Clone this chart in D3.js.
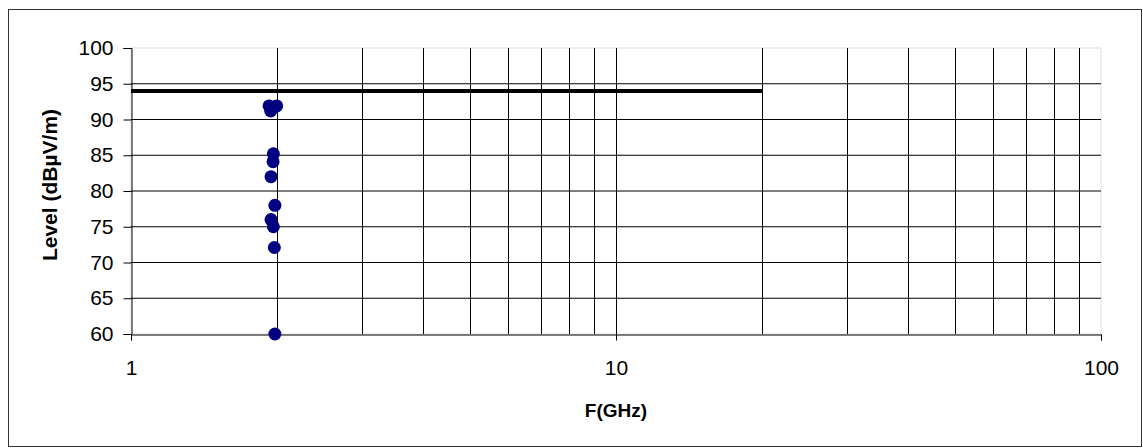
<!DOCTYPE html>
<html>
<head>
<meta charset="utf-8">
<script src="https://cdn.jsdelivr.net/npm/d3@7"></script>
<style>
  html, body { margin: 0; padding: 0; background: #fff; }
  svg { display: block; font-family: "Liberation Sans", Arial, sans-serif; }
</style>
</head>
<body>
<svg id="chart" width="1143" height="448"></svg>
<script>
// Measured emission points: frequency (GHz) and field strength (dBµV/m)
const freqGHz = [1.926, 1.997, 1.941, 1.966, 1.963, 1.944, 1.980, 1.944, 1.966, 1.975, 1.980];
const levelDb = [91.9, 91.9, 91.2, 85.2, 84.1, 82.0, 78.0, 76.0, 75.0, 72.1, 60.0];

// Limit line (start / end frequency, level)
const limitFreq = [1, 20];
const limitLevel = [94, 94];

// Axis ticks
const yTicks = [60, 65, 70, 75, 80, 85, 90, 95, 100];
const xLabelTicks = [1, 10, 100];
const xGridTicks = [2, 3, 4, 5, 6, 7, 8, 9, 10, 20, 30, 40, 50, 60, 70, 80, 90];

const svg = d3.select("#chart");

const plot = { left: 131, right: 1101, top: 48, bottom: 334 };

const x = d3.scaleLog().domain([1, 100]).range([plot.left, plot.right]);
const y = d3.scaleLinear().domain([60, 100]).range([plot.bottom, plot.top]);

// Outer chart frame
svg.append("rect")
  .attr("x", 8.5).attr("y", 9.5)
  .attr("width", 1133).attr("height", 437)
  .attr("fill", "#fff")
  .attr("stroke", "#333").attr("stroke-width", 1);

// Plot area border (faint)
svg.append("rect")
  .attr("x", plot.left).attr("y", plot.top)
  .attr("width", plot.right - plot.left).attr("height", plot.bottom - plot.top)
  .attr("fill", "none")
  .attr("stroke", "#e0e0e0").attr("stroke-width", 1);

// Horizontal gridlines
svg.append("g").selectAll("line")
  .data(yTicks.filter(v => v > 60 && v < 100))
  .join("line")
  .attr("x1", plot.left).attr("x2", plot.right)
  .attr("y1", d => y(d)).attr("y2", d => y(d))
  .attr("stroke", "#000").attr("stroke-width", 1);

// Vertical gridlines (log decades and sub-decades)
svg.append("g").selectAll("line")
  .data(xGridTicks)
  .join("line")
  .attr("x1", d => Math.round(x(d)) + 0.5).attr("x2", d => Math.round(x(d)) + 0.5)
  .attr("y1", plot.top).attr("y2", plot.bottom)
  .attr("stroke", "#000").attr("stroke-width", 1);

// Y axis
const yAxis = d3.axisLeft(y)
  .tickValues(yTicks)
  .tickSize(8)
  .tickPadding(10)
  .tickFormat(d3.format("d"));
const gy = svg.append("g")
  .attr("transform", `translate(${plot.left + 0.5},0)`)
  .call(yAxis);
gy.select(".domain").attr("stroke", "#000");
gy.selectAll(".tick line").attr("stroke", "#000");
gy.selectAll(".tick text")
  .attr("font-size", 21)
  .attr("font-family", "Liberation Sans, Arial, sans-serif")
  .attr("fill", "#000");

// X axis
const xAxis = d3.axisBottom(x)
  .tickValues(xLabelTicks)
  .tickSize(6)
  .tickPadding(20)
  .tickFormat(d3.format("d"));
const gx = svg.append("g")
  .attr("transform", `translate(0,${plot.bottom + 0.5})`)
  .call(xAxis);
gx.select(".domain").attr("stroke", "#000");
gx.selectAll(".tick line").attr("stroke", "#000");
gx.selectAll(".tick text")
  .attr("font-size", 21)
  .attr("font-family", "Liberation Sans, Arial, sans-serif")
  .attr("fill", "#000");

// Limit line
const limitData = limitFreq.map((f, i) => [f, limitLevel[i]]);
svg.append("path")
  .datum(limitData)
  .attr("fill", "none")
  .attr("stroke", "#000")
  .attr("stroke-width", 4)
  .attr("d", d3.line().x(d => x(d[0])).y(d => y(d[1])));

// Measurement points
const points = freqGHz.map((f, i) => ({ f, v: levelDb[i] }));
svg.append("g").selectAll("circle")
  .data(points)
  .join("circle")
  .attr("cx", d => x(d.f))
  .attr("cy", d => y(d.v))
  .attr("r", 6.5)
  .attr("fill", "#000080");

// Axis titles
svg.append("text")
  .attr("x", (plot.left + plot.right) / 2)
  .attr("y", 417)
  .attr("text-anchor", "middle")
  .attr("font-size", 19)
  .attr("font-weight", "bold")
  .text("F(GHz)");

svg.append("text")
  .attr("transform", `translate(57,${(plot.top + plot.bottom) / 2 - 6}) rotate(-90)`)
  .attr("text-anchor", "middle")
  .attr("font-size", 21)
  .attr("font-weight", "bold")
  .text("Level (dBµV/m)");
</script>
</body>
</html>
